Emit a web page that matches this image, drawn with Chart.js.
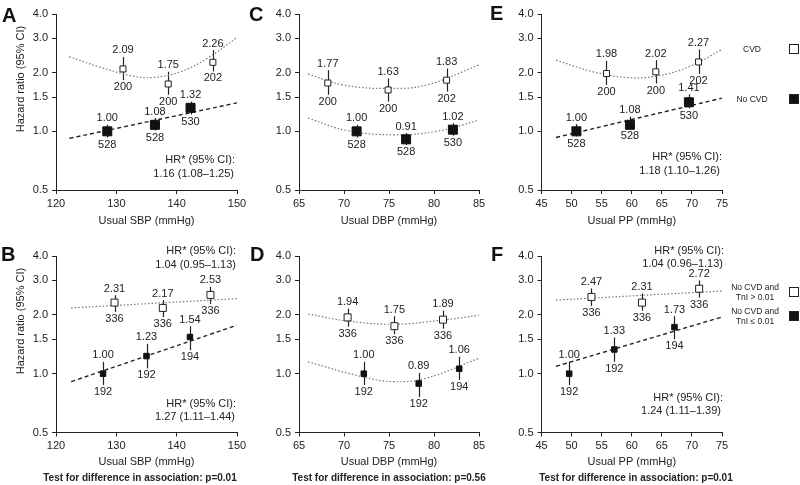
<!DOCTYPE html>
<html><head><meta charset="utf-8">
<script src="https://cdn.jsdelivr.net/npm/chart.js@4.4.1/dist/chart.umd.min.js"></script>
<style>
html,body{margin:0;padding:0;background:#fff;}
#wrap{position:relative;width:800px;height:485px;overflow:hidden;font-family:"Liberation Sans",Arial,sans-serif;color:#222;}
canvas{position:absolute;}
.t{position:absolute;white-space:nowrap;line-height:1.15;font-size:11px;}
.c{transform:translate(-50%,-50%);}
.r{transform:translateY(-50%);}
.letter{position:absolute;font-weight:bold;font-size:20px;line-height:20px;color:#111;}
.rot{transform:translate(-50%,-50%) rotate(-90deg);}
.leg{font-size:8.5px;text-align:center;line-height:1.2;}
.box{position:absolute;width:10px;height:10px;box-sizing:border-box;border:1px solid #222;}
.test{font-weight:bold;font-size:10px;}
</style></head>
<body><div id="wrap">
<canvas id="cA" width="250" height="235" style="left:0;top:0"></canvas>
<canvas id="cC" width="242" height="235" style="left:250px;top:0"></canvas>
<canvas id="cE" width="308" height="235" style="left:492px;top:0"></canvas>
<canvas id="cB" width="250" height="238" style="left:0;top:240px"></canvas>
<canvas id="cD" width="242" height="238" style="left:250px;top:240px"></canvas>
<canvas id="cF" width="308" height="238" style="left:492px;top:240px"></canvas>

<div class="letter" style="left:2px;top:5px">A</div>
<div class="letter" style="left:249px;top:4px">C</div>
<div class="letter" style="left:490px;top:3px">E</div>
<div class="letter" style="left:1px;top:244px">B</div>
<div class="letter" style="left:250px;top:244px">D</div>
<div class="letter" style="left:491px;top:244px">F</div>

<div class="t rot" style="left:20px;top:79px">Hazard ratio (95% CI)</div>
<div class="t rot" style="left:20px;top:321px">Hazard ratio (95% CI)</div>

<div class="t r" style="right:565px;top:159px;text-align:right">HR* (95% CI):</div>
<div class="t r" style="right:566px;top:173px;text-align:right">1.16 (1.08–1.25)</div>
<div class="t r" style="right:78px;top:156px;text-align:right">HR* (95% CI):</div>
<div class="t r" style="right:80px;top:170px;text-align:right">1.18 (1.10–1.26)</div>
<div class="t r" style="right:564px;top:250px;text-align:right">HR* (95% CI):</div>
<div class="t r" style="right:564px;top:264px;text-align:right">1.04 (0.95–1.13)</div>
<div class="t r" style="right:564px;top:403px;text-align:right">HR* (95% CI):</div>
<div class="t r" style="right:565px;top:416px;text-align:right">1.27 (1.11–1.44)</div>
<div class="t r" style="right:76px;top:250px;text-align:right">HR* (95% CI):</div>
<div class="t r" style="right:77px;top:263px;text-align:right">1.04 (0.96–1.13)</div>
<div class="t r" style="right:77px;top:397px;text-align:right">HR* (95% CI):</div>
<div class="t r" style="right:79px;top:410px;text-align:right">1.24 (1.11–1.39)</div>

<div class="t c leg" style="left:752px;top:49px">CVD</div>
<div class="box" style="left:789px;top:44px;background:#fff"></div>
<div class="t c leg" style="left:752px;top:99px">No CVD</div>
<div class="box" style="left:789px;top:94px;background:#111"></div>
<div class="t c leg" style="left:755px;top:292px">No CVD and<br>TnI &gt; 0.01</div>
<div class="box" style="left:789px;top:287px;background:#fff"></div>
<div class="t c leg" style="left:755px;top:316px">No CVD and<br>TnI ≤ 0.01</div>
<div class="box" style="left:789px;top:311px;background:#111"></div>

<div class="t c test" style="left:140px;top:478px">Test for difference in association: p=0.01</div>
<div class="t c test" style="left:389px;top:478px">Test for difference in association: p=0.56</div>
<div class="t c test" style="left:636px;top:478px">Test for difference in association: p=0.01</div>
</div>
<script>
// ---- tick labels ----
const yTicks = [0.5, 1.0, 1.5, 2.0, 3.0, 4.0];
const xTicksSBP = [120, 130, 140, 150];
const xTicksDBP = [65, 70, 75, 80, 85];
const xTicksPP = [45, 50, 55, 60, 65, 70, 75];

// ---- Panel A: SBP, CVD vs No CVD ----
const A_cvd_x = [131.1, 138.6, 146.0];
const A_cvd_hr = [2.09, 1.75, 2.26];
const A_cvd_lo = [1.83, 1.54, 2.03];
const A_cvd_hi = [2.41, 2.02, 2.61];
const A_cvd_n = [200, 200, 202];
const A_no_x = [128.5, 136.4, 142.3];
const A_no_hr = [1.00, 1.08, 1.32];
const A_no_lo = [0.93, 1.01, 1.22];
const A_no_hi = [1.08, 1.17, 1.42];
const A_no_n = [528, 528, 530];
const A_fitCvd_x = [122.2, 127.2, 132.8, 136.1, 140.6, 145.0, 150.0];
const A_fitCvd_y = [2.41, 2.14, 1.92, 1.89, 2.02, 2.36, 3.03];
const A_fitNo_x = [122.2, 150.0];
const A_fitNo_y = [0.92, 1.40];

// ---- Panel C: DBP ----
const C_cvd_x = [68.2, 74.9, 81.4];
const C_cvd_hr = [1.77, 1.63, 1.83];
const C_cvd_lo = [1.54, 1.42, 1.60];
const C_cvd_hi = [2.06, 1.87, 2.10];
const C_cvd_n = [200, 200, 202];
const C_no_x = [71.4, 76.9, 82.1];
const C_no_hr = [1.00, 0.91, 1.02];
const C_no_lo = [0.93, 0.85, 0.95];
const C_no_hi = [1.08, 0.98, 1.10];
const C_no_n = [528, 528, 530];
const C_fitCvd_x = [66.0, 69.9, 74.9, 79.2, 85.0];
const C_fitCvd_y = [1.97, 1.73, 1.66, 1.73, 2.19];
const C_fitNo_x = [66.0, 70.3, 75.5, 80.3, 85.0];
const C_fitNo_y = [1.17, 1.01, 0.96, 1.00, 1.14];

// ---- Panel E: PP ----
const E_cvd_x = [55.8, 64.0, 71.1];
const E_cvd_hr = [1.98, 2.02, 2.27];
const E_cvd_lo = [1.73, 1.76, 1.97];
const E_cvd_hi = [2.30, 2.32, 2.63];
const E_cvd_n = [200, 200, 202];
const E_no_x = [50.8, 59.7, 69.5];
const E_no_hr = [1.00, 1.08, 1.41];
const E_no_lo = [0.94, 1.03, 1.31];
const E_no_hi = [1.09, 1.19, 1.55];
const E_no_n = [528, 528, 530];
const E_fitCvd_x = [47.4, 53.6, 59.1, 64.1, 69.6, 75.0];
const E_fitCvd_y = [2.32, 2.02, 1.89, 1.92, 2.15, 2.63];
const E_fitNo_x = [47.4, 75.0];
const E_fitNo_y = [0.93, 1.48];

// ---- Panel B: SBP, TnI ----
const B_cvd_x = [129.7, 137.7, 145.6];
const B_cvd_hr = [2.31, 2.17, 2.53];
const B_cvd_lo = [2.07, 1.95, 2.27];
const B_cvd_hi = [2.52, 2.38, 2.78];
const B_cvd_n = [336, 336, 336];
const B_no_x = [127.8, 135.0, 142.2];
const B_no_hr = [1.00, 1.23, 1.54];
const B_no_lo = [0.875, 1.065, 1.32];
const B_no_hi = [1.15, 1.42, 1.75];
const B_no_n = [192, 192, 194];
const B_fitCvd_x = [122.5, 150.0];
const B_fitCvd_y = [2.17, 2.42];
const B_fitNo_x = [122.5, 150.0];
const B_fitNo_y = [0.91, 1.77];

// ---- Panel D: DBP, TnI ----
const D_cvd_x = [70.4, 75.6, 81.0];
const D_cvd_hr = [1.94, 1.75, 1.89];
const D_cvd_lo = [1.74, 1.59, 1.70];
const D_cvd_hi = [2.15, 1.97, 2.10];
const D_cvd_n = [336, 336, 336];
const D_no_x = [72.2, 78.3, 82.8];
const D_no_hr = [1.00, 0.89, 1.06];
const D_no_lo = [0.875, 0.76, 0.93];
const D_no_hi = [1.15, 1.01, 1.22];
const D_no_n = [192, 192, 194];
const D_fitCvd_x = [66.0, 70.4, 75.5, 81.0, 85.0];
const D_fitCvd_y = [2.02, 1.86, 1.79, 1.88, 1.99];
const D_fitNo_x = [66.0, 71.8, 75.5, 79.2, 85.0];
const D_fitNo_y = [1.15, 0.97, 0.91, 0.95, 1.20];

// ---- Panel F: PP, TnI ----
const F_cvd_x = [53.3, 61.7, 71.2];
const F_cvd_hr = [2.47, 2.31, 2.72];
const F_cvd_lo = [2.22, 2.10, 2.45];
const F_cvd_hi = [2.73, 2.57, 3.00];
const F_cvd_n = [336, 336, 336];
const F_no_x = [49.6, 57.1, 67.1];
const F_no_hr = [1.00, 1.33, 1.73];
const F_no_lo = [0.875, 1.15, 1.50];
const F_no_hi = [1.15, 1.53, 1.97];
const F_no_n = [192, 192, 194];
const F_fitCvd_x = [47.4, 75.0];
const F_fitCvd_y = [2.38, 2.65];
const F_fitNo_x = [47.4, 75.0];
const F_fitNo_y = [1.09, 1.95];

Chart.defaults.font.family = '"Liberation Sans", Arial, sans-serif';
Chart.defaults.font.size = 11;
Chart.defaults.color = '#222';

const INK = '#222';
const pts = (xs, ys) => xs.map((x, i) => ({x: x, y: ys[i]}));

const errPlugin = {
  id: 'errs',
  beforeDatasetsDraw(chart) {
    const ctx = chart.ctx, xs = chart.scales.x, ys = chart.scales.y;
    ctx.save();
    ctx.strokeStyle = INK; ctx.lineWidth = 1.2;
    chart.data.datasets.forEach(ds => {
      if (!ds.lo) return;
      ds.data.forEach((p, i) => {
        const x = Math.round(xs.getPixelForValue(p.x)) + 0.5;
        ctx.beginPath();
        ctx.moveTo(x, ys.getPixelForValue(ds.lo[i]));
        ctx.lineTo(x, ys.getPixelForValue(ds.hi[i]));
        ctx.stroke();
      });
    });
    ctx.restore();
  },
  afterDatasetsDraw(chart) {
    const ctx = chart.ctx, xs = chart.scales.x, ys = chart.scales.y;
    ctx.save();
    ctx.fillStyle = INK;
    ctx.font = '11px "Liberation Sans", Arial, sans-serif';
    ctx.textAlign = 'center'; ctx.textBaseline = 'middle';
    chart.data.datasets.forEach(ds => {
      if (!ds.lo) return;
      ds.data.forEach((p, i) => {
        const x = xs.getPixelForValue(p.x);
        ctx.fillText(p.y.toFixed(2), x, ys.getPixelForValue(ds.hi[i]) - 6.5);
        ctx.fillText(String(ds.nLab[i]), x, ys.getPixelForValue(ds.lo[i]) + 7);
      });
    });
    ctx.restore();
  }
};

function makePanel(id, cLeft, cTop, cW, cH, area, titleY, xTicks, xTitle, d, sizes, noDotted) {
  const dotted = {borderColor: '#777', borderWidth: 1.2, borderDash: [1.5, 2]};
  const dashed = {borderColor: INK, borderWidth: 1.4, borderDash: [4, 3]};
  const fitNoStyle = noDotted ? dotted : dashed;
  new Chart(document.getElementById(id), {
    type: 'scatter',
    data: {
      datasets: [
        Object.assign({data: pts(d.fcx, d.fcy), showLine: true, pointRadius: 0, tension: 0.4, order: 2, fill: false}, dotted),
        Object.assign({data: pts(d.fnx, d.fny), showLine: true, pointRadius: 0, tension: 0.4, order: 2, fill: false}, fitNoStyle),
        {data: pts(d.cx, d.chr), lo: d.clo, hi: d.chi, nLab: d.cn, pointStyle: 'rect',
         pointRadius: sizes[0] / Math.SQRT2, pointBackgroundColor: '#fff', pointBorderColor: INK, pointBorderWidth: 1, order: 0},
        {data: pts(d.nx, d.nhr), lo: d.nlo, hi: d.nhi, nLab: d.nn, pointStyle: 'rect',
         pointRadius: sizes[1] / Math.SQRT2, pointBackgroundColor: '#111', pointBorderColor: '#111', pointBorderWidth: 1, order: 0}
      ]
    },
    options: {
      responsive: false, animation: false, devicePixelRatio: 1,
      layout: {padding: {left: 0, top: area.t - cTop, right: cLeft + cW - area.r, bottom: 0}},
      plugins: {legend: {display: false}, tooltip: {enabled: false}},
      scales: {
        x: {
          type: 'linear', min: xTicks[0], max: xTicks[xTicks.length - 1],
          afterFit: s => { s.height = cTop + cH - area.b; },
          afterBuildTicks: s => { s.ticks = xTicks.map(v => ({value: v})); },
          grid: {display: true, drawOnChartArea: false, drawTicks: true, tickLength: 4, color: INK, lineWidth: 1},
          border: {display: true, color: INK, width: 1},
          ticks: {padding: 3, color: INK, font: {size: 11}},
          title: {display: true, text: xTitle, color: INK, font: {size: 11},
                  padding: {top: 0, bottom: (cTop + cH) - 6.6 - titleY}}
        },
        y: {
          type: 'logarithmic', min: 0.5, max: 4.0,
          afterFit: s => { s.width = area.l - cLeft; },
          afterBuildTicks: s => { s.ticks = yTicks.map(v => ({value: v})); },
          grid: {display: true, drawOnChartArea: false, drawTicks: true, tickLength: 4, color: INK, lineWidth: 1},
          border: {display: true, color: INK, width: 1},
          ticks: {padding: 4, color: INK, font: {size: 11}, callback: v => Number(v).toFixed(1)}
        }
      }
    },
    plugins: [errPlugin]
  });
}

const rowTop = {t: 14, b: 190}, rowBot = {t: 256, b: 432.5};
const colAB = {l: 56, r: 237}, colCD = {l: 299, r: 479}, colEF = {l: 541.5, r: 722};
const bigOpen = [6, 9], smallOpen = [7, 5.5];

makePanel('cA', 0, 0, 250, 235, {l: colAB.l, r: colAB.r, t: rowTop.t, b: rowTop.b}, 220.5, xTicksSBP, 'Usual SBP (mmHg)',
  {cx: A_cvd_x, chr: A_cvd_hr, clo: A_cvd_lo, chi: A_cvd_hi, cn: A_cvd_n,
   nx: A_no_x, nhr: A_no_hr, nlo: A_no_lo, nhi: A_no_hi, nn: A_no_n,
   fcx: A_fitCvd_x, fcy: A_fitCvd_y, fnx: A_fitNo_x, fny: A_fitNo_y}, bigOpen, false);
makePanel('cC', 250, 0, 242, 235, {l: colCD.l, r: colCD.r, t: rowTop.t, b: rowTop.b}, 220.5, xTicksDBP, 'Usual DBP (mmHg)',
  {cx: C_cvd_x, chr: C_cvd_hr, clo: C_cvd_lo, chi: C_cvd_hi, cn: C_cvd_n,
   nx: C_no_x, nhr: C_no_hr, nlo: C_no_lo, nhi: C_no_hi, nn: C_no_n,
   fcx: C_fitCvd_x, fcy: C_fitCvd_y, fnx: C_fitNo_x, fny: C_fitNo_y}, bigOpen, true);
makePanel('cE', 492, 0, 308, 235, {l: colEF.l, r: colEF.r, t: rowTop.t, b: rowTop.b}, 220.5, xTicksPP, 'Usual PP (mmHg)',
  {cx: E_cvd_x, chr: E_cvd_hr, clo: E_cvd_lo, chi: E_cvd_hi, cn: E_cvd_n,
   nx: E_no_x, nhr: E_no_hr, nlo: E_no_lo, nhi: E_no_hi, nn: E_no_n,
   fcx: E_fitCvd_x, fcy: E_fitCvd_y, fnx: E_fitNo_x, fny: E_fitNo_y}, bigOpen, false);
makePanel('cB', 0, 240, 250, 238, {l: colAB.l, r: colAB.r, t: rowBot.t, b: rowBot.b}, 461.7, xTicksSBP, 'Usual SBP (mmHg)',
  {cx: B_cvd_x, chr: B_cvd_hr, clo: B_cvd_lo, chi: B_cvd_hi, cn: B_cvd_n,
   nx: B_no_x, nhr: B_no_hr, nlo: B_no_lo, nhi: B_no_hi, nn: B_no_n,
   fcx: B_fitCvd_x, fcy: B_fitCvd_y, fnx: B_fitNo_x, fny: B_fitNo_y}, smallOpen, false);
makePanel('cD', 250, 240, 242, 238, {l: colCD.l, r: colCD.r, t: rowBot.t, b: rowBot.b}, 461.7, xTicksDBP, 'Usual DBP (mmHg)',
  {cx: D_cvd_x, chr: D_cvd_hr, clo: D_cvd_lo, chi: D_cvd_hi, cn: D_cvd_n,
   nx: D_no_x, nhr: D_no_hr, nlo: D_no_lo, nhi: D_no_hi, nn: D_no_n,
   fcx: D_fitCvd_x, fcy: D_fitCvd_y, fnx: D_fitNo_x, fny: D_fitNo_y}, smallOpen, true);
makePanel('cF', 492, 240, 308, 238, {l: colEF.l, r: colEF.r, t: rowBot.t, b: rowBot.b}, 461.7, xTicksPP, 'Usual PP (mmHg)',
  {cx: F_cvd_x, chr: F_cvd_hr, clo: F_cvd_lo, chi: F_cvd_hi, cn: F_cvd_n,
   nx: F_no_x, nhr: F_no_hr, nlo: F_no_lo, nhi: F_no_hi, nn: F_no_n,
   fcx: F_fitCvd_x, fcy: F_fitCvd_y, fnx: F_fitNo_x, fny: F_fitNo_y}, smallOpen, false);
</script>
</body></html>
